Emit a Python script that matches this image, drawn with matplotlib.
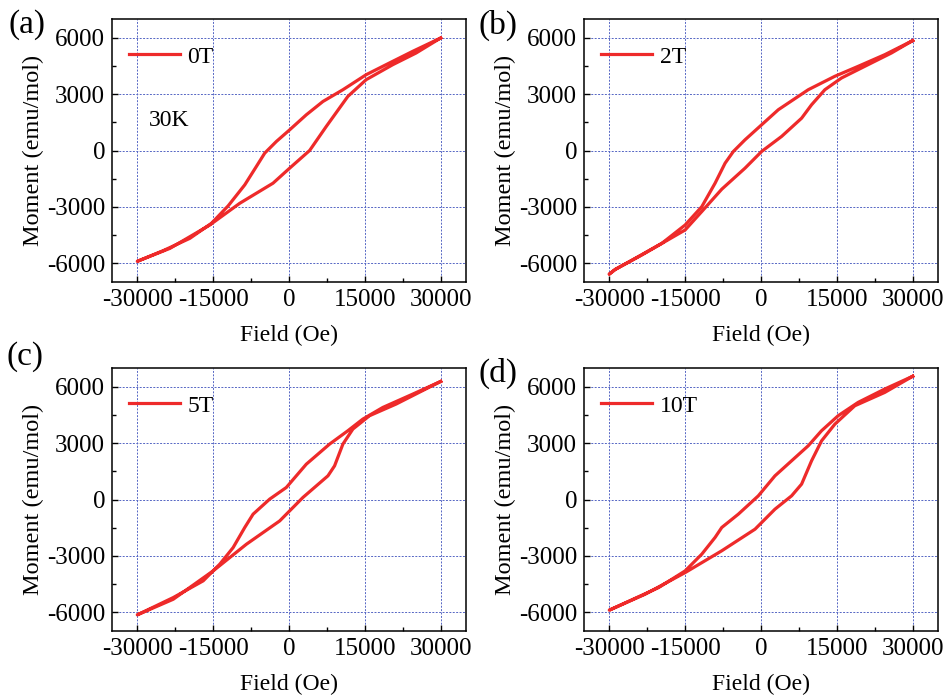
import numpy as np
import matplotlib
matplotlib.use("Agg")
from matplotlib import pyplot as plt
from matplotlib.ticker import MultipleLocator

plt.rcParams["font.family"] = ["Liberation Serif", "DejaVu Serif"]
plt.rcParams["axes.unicode_minus"] = False

# descending branch (+30 kOe -> -30 kOe) and ascending branch (-30 kOe -> +30 kOe)
a_down_h = [30000, 24470, 19870, 15260, 10660, 6710, 3420, 130, -2500, -4800, -6450, -8750, -12040, -15330, -19600, -24870, -30000]
a_down_m = [5990, 5280, 4660, 4035, 3235, 2610, 1900, 1100, 480, -140, -850, -1830, -2950, -3875, -4675, -5330, -5900]
a_up_h = [-30000, -23550, -15660, -9740, -3160, 130, 4080, 7370, 11640, 15260, 20530, 25130, 30000]
a_up_m = [-5900, -5210, -3965, -2810, -1740, -940, 0, 1280, 2880, 3770, 4570, 5190, 5990]

b_down_h = [30000, 24470, 19210, 14600, 9340, 3420, 130, -3160, -5460, -7100, -9080, -11710, -15000, -19600, -24870, -28820, -30000]
b_down_m = [5850, 5100, 4480, 3950, 3235, 2170, 1370, 570, -50, -675, -1740, -2990, -3965, -4940, -5740, -6330, -6580]
b_up_h = [-30000, -28820, -23550, -15000, -11710, -7760, -3160, 130, 4080, 8030, 10000, 12630, 15920, 21180, 25790, 30000]
b_up_m = [-6580, -6330, -5560, -4230, -3250, -2060, -940, -50, 750, 1720, 2435, 3235, 3860, 4570, 5190, 5850]

c_down_h = [30000, 24470, 18550, 14600, 11640, 8030, 3420, -530, -3820, -7100, -8750, -11050, -13680, -16970, -22890, -30000]
c_down_m = [6285, 5610, 4900, 4280, 3660, 2950, 1880, 640, 20, -780, -1490, -2560, -3440, -4330, -5220, -6140]
c_up_h = [-30000, -22890, -15000, -8420, -1840, 2760, 7700, 9010, 10660, 12630, 15920, 21180, 30000]
c_up_m = [-6140, -5310, -3800, -2380, -1140, 110, 1260, 1790, 2950, 3750, 4460, 5080, 6285]

d_down_h = [30000, 24470, 19210, 15260, 11970, 9340, 6050, 2760, -530, -4480, -7760, -9080, -11710, -15000, -20260, -30000]
d_down_m = [6560, 5880, 5170, 4460, 3660, 2860, 2060, 1260, 195, -780, -1490, -2020, -2910, -3800, -4690, -5890]
d_up_h = [-30000, -22890, -15000, -7760, -1180, 2760, 6050, 8030, 10000, 11970, 14600, 18550, 24470, 30000]
d_up_m = [-5890, -5040, -3890, -2730, -1580, -515, 195, 820, 2060, 3120, 4010, 4990, 5700, 6560]

panels = [
    ("(a)", "0T", a_down_h, a_down_m, a_up_h, a_up_m),
    ("(b)", "2T", b_down_h, b_down_m, b_up_h, b_up_m),
    ("(c)", "5T", c_down_h, c_down_m, c_up_h, c_up_m),
    ("(d)", "10T", d_down_h, d_down_m, d_up_h, d_up_m),
]

W, H = 944, 697
fig = plt.figure(figsize=(W / 100, H / 100), dpi=100)
boxes = [(112, 19), (584, 19), (112, 368), (584, 368)]
label_pos = [(8, 25), (478, 25), (6, 357), (478, 373)]
red = "#ee2a2a"

for (lab, leg, dh, dm, uh, um), (x0, y0), (lx, ly) in zip(panels, boxes, label_pos):
    ax = fig.add_axes([x0 / W, 1 - (y0 + 263) / H, 354 / W, 263 / H])
    hh = np.concatenate([dh, uh[1:]])
    mm = np.concatenate([dm, um[1:]])
    ax.plot(hh, mm, color=red, lw=2.3, label=leg, solid_joinstyle="round")
    ax.set_xlim(-35000, 35000)
    ax.set_ylim(-7000, 7000)
    ax.set_xticks([-30000, -15000, 0, 15000, 30000])
    ax.set_yticks([-6000, -3000, 0, 3000, 6000])
    ax.xaxis.set_minor_locator(MultipleLocator(7500))
    ax.yaxis.set_minor_locator(MultipleLocator(1500))
    ax.tick_params(which="both", direction="in", top=False, right=False, labelsize=18, pad=5)
    ax.tick_params(which="major", length=4, width=1)
    ax.tick_params(which="minor", length=3, width=1)
    ax.grid(True, which="major", color="#5566c4", ls=(0, (2, 1.5)), lw=0.7)
    for s in ax.spines.values():
        s.set_linewidth(1.1)
    ax.set_xlabel("Field (Oe)", fontsize=17, labelpad=10)
    ax.set_ylabel("Moment (emu/mol)", fontsize=17.5, labelpad=2)
    ax.legend(loc="upper left", frameon=False, fontsize=17, handlelength=2.2,
              handletextpad=0.3, borderaxespad=0.3, bbox_to_anchor=(0.0, 0.96))
    fig.text(lx / W, 1 - ly / H, lab, fontsize=24, va="center", ha="left")
    if lab == "(a)":
        ax.text(-27800, 1600, "30K", fontsize=17, va="center", ha="left")

fig.savefig("out.png", dpi=100)
